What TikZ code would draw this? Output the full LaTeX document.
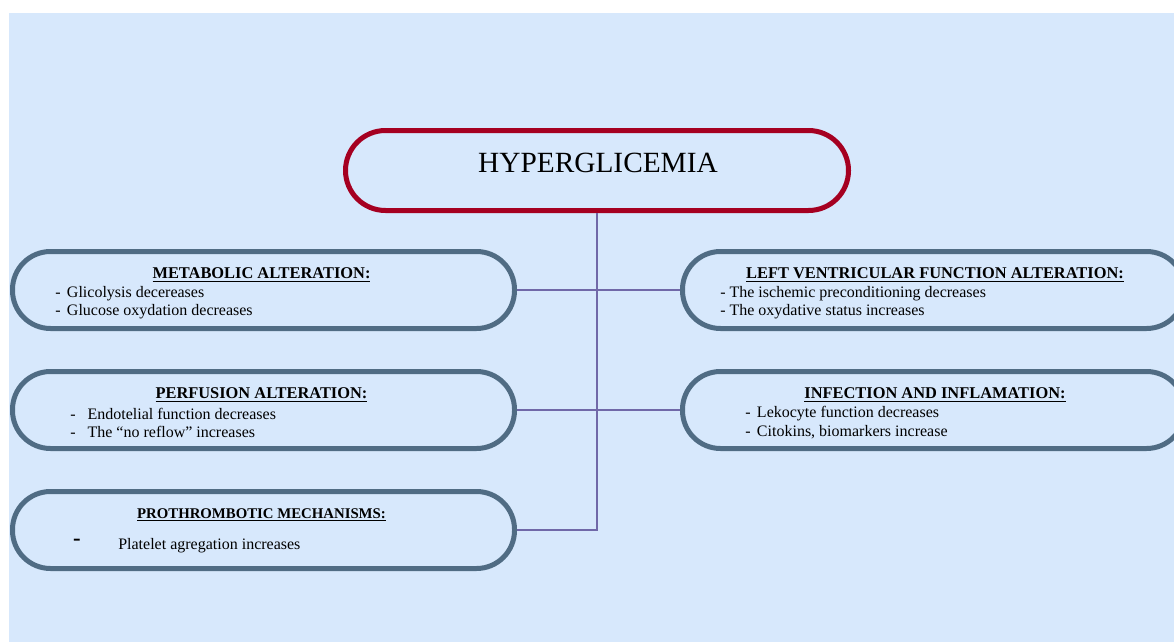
\documentclass[tikz,border=0pt]{standalone}
\usepackage{fontspec}
\setmainfont{Liberation Serif}
\definecolor{bgblue}{RGB}{215,232,252}
\definecolor{hyred}{RGB}{165,0,33}
\definecolor{slate}{RGB}{80,108,132}
\definecolor{linkc}{RGB}{112,104,168}
\tikzset{
  mainbox/.style={draw=hyred,line width=3.75pt,rounded corners=30pt,minimum width=377.25pt,minimum height=60pt,inner sep=0pt},
  catbox/.style={draw=slate,line width=3.75pt,rounded corners=28.5pt,minimum width=376.5pt,minimum height=57.75pt,inner sep=0pt},
  cattitle/.style={font=\fontsize{12.3}{14}\selectfont\bfseries,inner sep=0pt},
  item/.style={font=\fontsize{12}{14}\selectfont,anchor=west,inner sep=0pt},
  link/.style={draw=linkc,line width=1.4pt}
}
\begin{document}
\begin{tikzpicture}[x=0.75pt,y=-0.75pt]
\useasboundingbox (0,0) rectangle (1174,642);
\fill[bgblue] (9,13) rectangle (1174,642);
% boxes
\node[mainbox] (hyp) at (597,170.5) {};
\node[catbox] (met) at (263.5,290) {};
\node[catbox] (per) at (263.5,410) {};
\node[catbox] (pro) at (263.5,530) {};
\node[catbox] (lvf) at (933.5,290) {};
\node[catbox] (inf) at (933.5,410) {};
% connectors
\draw[link] (hyp.south) |- (pro.east);
\draw[link] (met.east) -- (lvf.west);
\draw[link] (per.east) -- (inf.west);
% texts
\node[font=\fontsize{22}{26}\selectfont,inner sep=0pt] (hyptxt) at (598,163) {HYPERGLICEMIA};
\node[cattitle] (mett) at (261.5,275) {\underline{METABOLIC ALTERATION:}};
\node[item] (met1) at (55,294) {-\hspace{0.4em}Glicolysis decereases};
\node[item] (met2) at (55,312) {-\hspace{0.4em}Glucose oxydation decreases};
\node[cattitle] (pert) at (261.5,395) {\underline{PERFUSION ALTERATION:}};
\node[item] (per1) at (70,414) {-\hspace{0.75em}Endotelial function decreases};
\node[item] (per2) at (70,432) {-\hspace{0.75em}The “no reflow” increases};
\node[cattitle,font=\fontsize{11.1}{13}\selectfont\bfseries] (prot) at (261.5,515) {\underline{PROTHROMBOTIC MECHANISMS:}};
\node[font=\fontsize{17}{19}\selectfont\bfseries,inner sep=0pt] (prod) at (77,542) {-};
\node[item] (pro1) at (118,546) {Platelet agregation increases};
\node[cattitle] (lvft) at (935,275) {\underline{LEFT VENTRICULAR FUNCTION ALTERATION:}};
\node[item] (lvf1) at (720,294) {- The ischemic preconditioning decreases};
\node[item] (lvf2) at (720,312) {- The oxydative status increases};
\node[cattitle] (inft) at (935,395) {\underline{INFECTION AND INFLAMATION:}};
\node[item] (inf1) at (745,414) {-\hspace{0.4em}Lekocyte function decreases};
\node[item] (inf2) at (745,432) {-\hspace{0.4em}Citokins, biomarkers increase};
\end{tikzpicture}
\end{document}
